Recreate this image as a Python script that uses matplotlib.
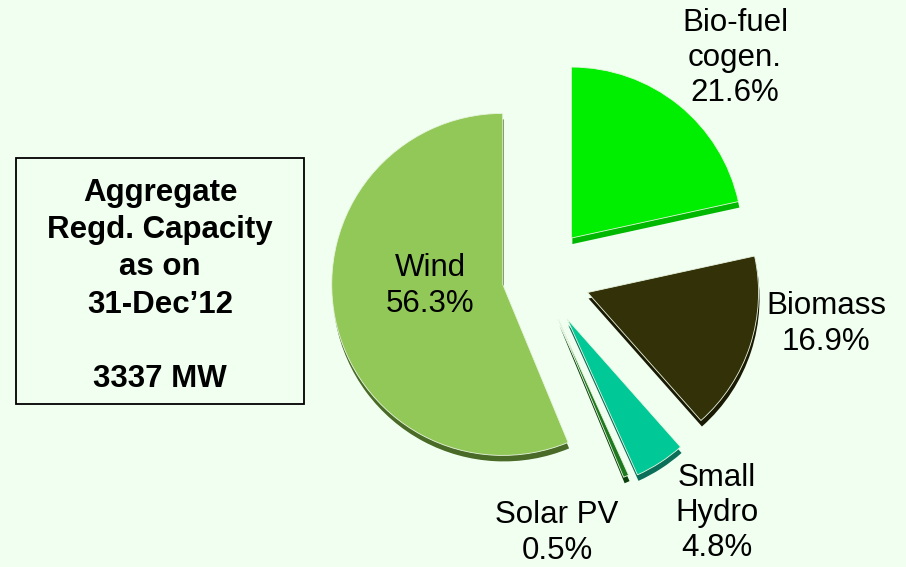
import numpy as np
import matplotlib.pyplot as plt
from matplotlib.patches import Rectangle

############################################################################################################
# data (clockwise from 12 o'clock)
sources = ["Bio-fuel cogen.", "Biomass", "Small Hydro", "Solar PV", "Wind"]
shares = [21.6, 16.9, 4.8, 0.5, 56.3]
colors = ["#00EE00", "#333108", "#00C896", "#1F7A1F", "#92C857"]
side_colors = ["#00B800", "#1A1904", "#0A6E58", "#0B3F0B", "#4A6A28"]
explode_px = [50, 50, 50, 46, 38]   #offset of each slice, pixels

label_text = ["Bio-fuel\ncogen.\n21.6%", "Biomass\n16.9%", "Small\nHydro\n4.8%",
              "Solar PV\n0.5%", "Wind\n56.3%"]
label_xy = [(735, 509), (826, 243), (717, 54), (557, 34), (430, 281)]

box_text = "Aggregate\nRegd. Capacity\nas on\n31-Dec\u201912\n\n3337 MW"
###########################################################################################################

W, H = 906, 567
bg = "#F0FFF0"
plt.rcParams['font.family'] = ['Liberation Sans', 'DejaVu Sans']

fig = plt.figure(figsize=(W/100, H/100), dpi=100, facecolor=bg)
ax = fig.add_axes([0, 0, 1, 1])
ax.set_facecolor(bg)

cx, cy, R = 540, 290, 171

#3D-ish side: darker pie shifted down a bit
ax.pie(shares, colors=side_colors, explode=explode_px, startangle=90, counterclock=False,
       center=(cx + 1, cy - 6), radius=R, wedgeprops=dict(linewidth=0), frame=True)
ax.pie(shares, colors=colors, explode=explode_px, startangle=90, counterclock=False,
       center=(cx, cy), radius=R, wedgeprops=dict(linewidth=0.6, edgecolor="#E8F5E0"), frame=True)
ax.set_xlim(0, W); ax.set_ylim(0, H)
ax.set_aspect('equal')
ax.axis('off')

for txt, (x, y) in zip(label_text, label_xy):
    ax.text(x, y, txt, ha='center', va='center', fontsize=22.5, color='black', linespacing=1.22)

ax.add_patch(Rectangle((16, 163), 288, 246, fill=False, edgecolor='black', linewidth=1.3))
ax.text(160, 281, box_text, ha='center', va='center', fontsize=22.5, fontweight='bold',
        linespacing=1.31)

plt.savefig("out.png", dpi=100, facecolor=bg)
